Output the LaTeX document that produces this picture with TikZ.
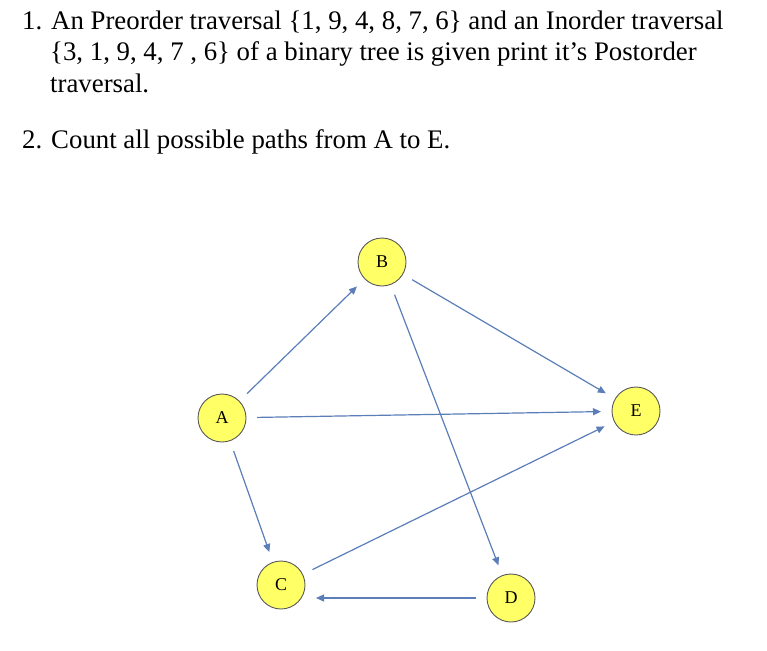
\documentclass[tikz,border=0pt]{standalone}
\usepackage{fontspec}
\setmainfont{Liberation Serif}
\usetikzlibrary{arrows.meta}
\definecolor{arrowblue}{HTML}{5B7DB8}
\definecolor{vyellow}{HTML}{FFFF66}
\tikzset{%
  vertex/.style={draw=gray!70!black, line width=0.9pt, fill=vyellow, circle, minimum size=48pt, inner sep=0pt, outer sep=11pt, font=\fontsize{18}{18}\selectfont},
  edge/.style={draw=arrowblue, line width=1.2pt, -{Triangle[length=8pt,width=7pt]}},
  line/.style={anchor=base west, inner sep=0pt, font=\fontsize{26.8}{30}\selectfont}
}
\begin{document}
\begin{tikzpicture}[x=1pt,y=-1pt]
  \useasboundingbox (0,0) rectangle (767,650);
  \node[line] (q1a) at (22,30) {1. An Preorder traversal \{1, 9, 4, 8, 7, 6\} and an Inorder traversal};
  \node[line] (q1b) at (50,61) {\{3, 1, 9, 4, 7 , 6\} of a binary tree is given print it’s Postorder};
  \node[line] (q1c) at (50,93) {traversal.};
  \node[line] (q2) at (22,148) {2. Count all possible paths from A to E.};

  \node[vertex] (B) at (382,262) {B};
  \node[vertex] (A) at (222,418) {A};
  \node[vertex] (E) at (636,411) {E};
  \node[vertex] (C) at (281,585) {C};
  \node[vertex] (D) at (511,598) {D};

  \draw[edge] (A) -- (B);
  \draw[edge] (B) -- (E);
  \draw[edge] (A) -- (E);
  \draw[edge] (A) -- (C);
  \draw[edge] (B) -- (D);
  \draw[edge] (C) -- (E);
  \draw[edge] (D) -- (C.east |- D);
\end{tikzpicture}
\end{document}
